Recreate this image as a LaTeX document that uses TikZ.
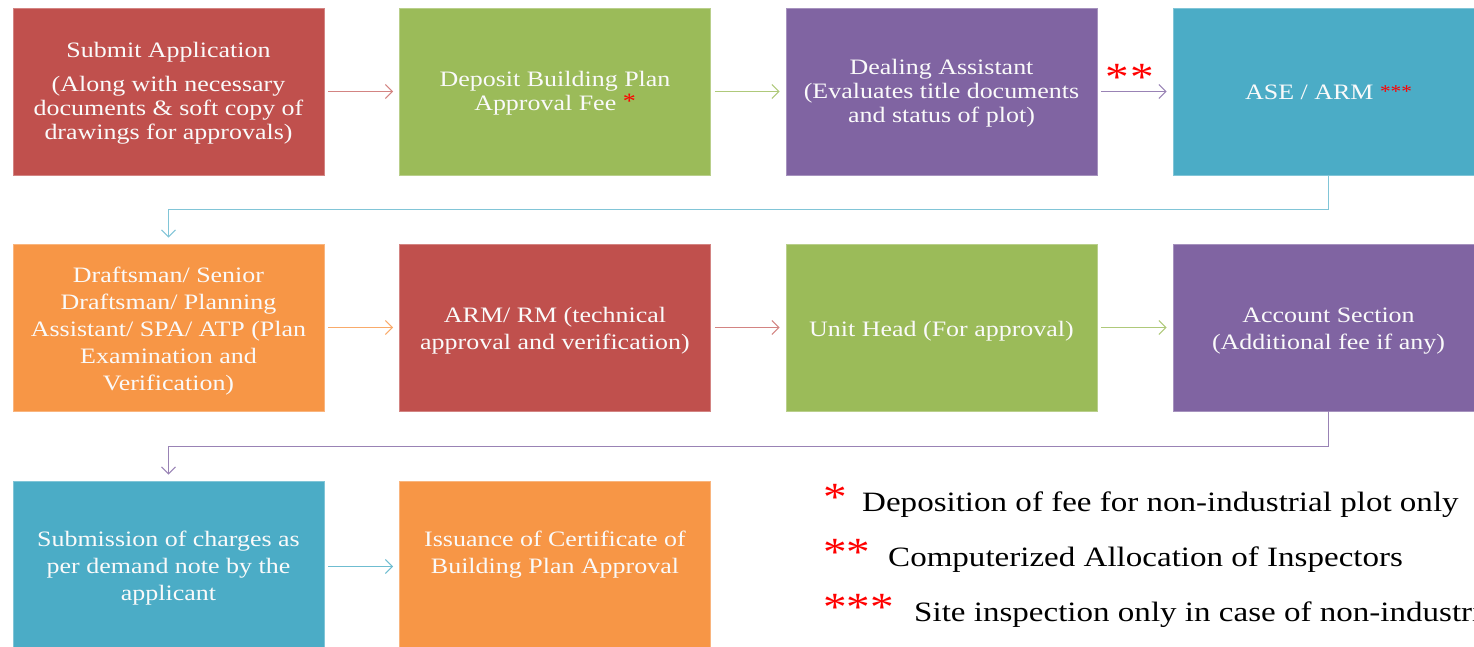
\documentclass[tikz,border=0pt]{standalone}
\usepackage{fontspec}
\setmainfont{Liberation Serif}[FakeStretch=1.18]
\usetikzlibrary{arrows.meta}
\definecolor{cRed}{HTML}{C0504D}
\definecolor{cGreen}{HTML}{9BBB59}
\definecolor{cPurple}{HTML}{8064A2}
\definecolor{cTeal}{HTML}{4BACC6}
\definecolor{cOrange}{HTML}{F79646}
\definecolor{cStar}{HTML}{FF0000}
\newcommand{\rs}[1]{\textcolor{cStar}{#1}}
\tikzset{
  box/.style={rectangle, minimum width=311pt, minimum height=167pt, inner sep=0pt, line width=0.8pt},
  lbl/.style={inner sep=0pt, text=white!96!gray, align=center},
  rowA/.style={font=\fontsize{22}{24}\selectfont},
  rowB/.style={font=\fontsize{22}{27}\selectfont},
  arr/.style={line width=1pt, -{Straight Barb[length=7pt,width=14pt,line width=1pt]}, shorten <=4pt, shorten >=6pt},
  legtext/.style={anchor=base west, inner sep=0pt, font=\fontsize{28}{30}\selectfont, text=black},
  legstar/.style={anchor=base west, inner sep=0pt, font=\fontsize{40}{40}\selectfont, text=cStar}
}
\begin{document}
\begin{tikzpicture}[x=1pt,y=-1pt]
\useasboundingbox (0,0) rectangle (1474,646);
% boxes
\node[box,fill=cRed,draw=cRed!70!white] (submit) at (168.5,91.5) {};
\node[box,fill=cGreen,draw=cGreen!70!white] (deposit) at (555,91.5) {};
\node[box,fill=cPurple,draw=cPurple!70!white] (dealing) at (941.5,91.5) {};
\node[box,fill=cTeal,draw=cTeal!70!white] (ase) at (1328.5,91.5) {};
\node[box,fill=cOrange,draw=cOrange!70!white] (draft) at (168.5,327.5) {};
\node[box,fill=cRed,draw=cRed!70!white] (armrm) at (555,327.5) {};
\node[box,fill=cGreen,draw=cGreen!70!white] (unit) at (941.5,327.5) {};
\node[box,fill=cPurple,draw=cPurple!70!white] (account) at (1328.5,327.5) {};
\node[box,fill=cTeal,draw=cTeal!70!white,minimum height=171pt] (charges) at (168.5,566.5) {};
\node[box,fill=cOrange,draw=cOrange!70!white,minimum height=171pt] (issue) at (555,566.5) {};
% texts
\node[lbl,rowA] (submit-t) at (168.5,93.5)
  {Submit Application\\[10pt](Along with necessary\\documents \& soft copy of\\drawings for approvals)};
\node[lbl,rowA] (deposit-t) at (555,93.5)
  {Deposit Building Plan\\Approval Fee \rs{\raisebox{2pt}{*}}};
\node[lbl,rowA] (dealing-t) at (941.5,93.5)
  {Dealing Assistant\\(Evaluates title documents\\and status of plot)};
\node[lbl,rowA] (ase-t) at (1328.5,92)
  {ASE / ARM \rs{\fontsize{18}{18}\selectfont\raisebox{2pt}{***}}};
\node[lbl,rowB] (draft-t) at (168.5,331)
  {Draftsman/ Senior\\Draftsman/ Planning\\Assistant/ SPA/ ATP (Plan\\Examination and\\Verification)};
\node[lbl,rowB] (armrm-t) at (555,331)
  {ARM/ RM (technical\\approval and verification)};
\node[lbl,rowB] (unit-t) at (941.5,331)
  {Unit Head (For approval)};
\node[lbl,rowB] (account-t) at (1328.5,331)
  {Account Section\\(Additional fee if any)};
\node[lbl,rowB] (charges-t) at (168.5,568.5)
  {Submission of charges as\\per demand note by the\\applicant};
\node[lbl,rowB] (issue-t) at (555,555)
  {Issuance of Certificate of\\Building Plan Approval};
% arrows
\draw[arr,draw=cRed!70!white] (submit) -- (deposit);
\draw[arr,draw=cGreen!80!white] (deposit) -- (dealing);
\draw[arr,draw=cPurple!80!white] (dealing) -- (ase);
\draw[arr,draw=cOrange!80!white] (draft) -- (armrm);
\draw[arr,draw=cRed!70!white] (armrm) -- (unit);
\draw[arr,draw=cGreen!80!white] (unit) -- (account);
\draw[arr,draw=cTeal!80!white] (charges) -- (issue);
\draw[arr,draw=cTeal!70!white,shorten <=0pt] (ase.south) -- ++(0,34) -| (draft.north);
\draw[arr,draw=cPurple!80!white,shorten <=0pt] (account.south) -- ++(0,35) -| (charges.north);
% two stars above the arrow
\node[legstar] (twostar) at (1105,90) {*\kern2pt*};
% legend
\node[legstar] (s1) at (823,510) {*};
\node[legtext] (l1) at (862,511) {Deposition of fee for non-industrial plot only};
\node[legstar] (s2) at (823,565) {**};
\node[legtext] (l2) at (888,566) {Computerized Allocation of Inspectors};
\node[legstar] (s3) at (823,620) {***};
\node[legtext] (l3) at (914,621) {Site inspection only in case of non-industrial plot};
\end{tikzpicture}
\end{document}
